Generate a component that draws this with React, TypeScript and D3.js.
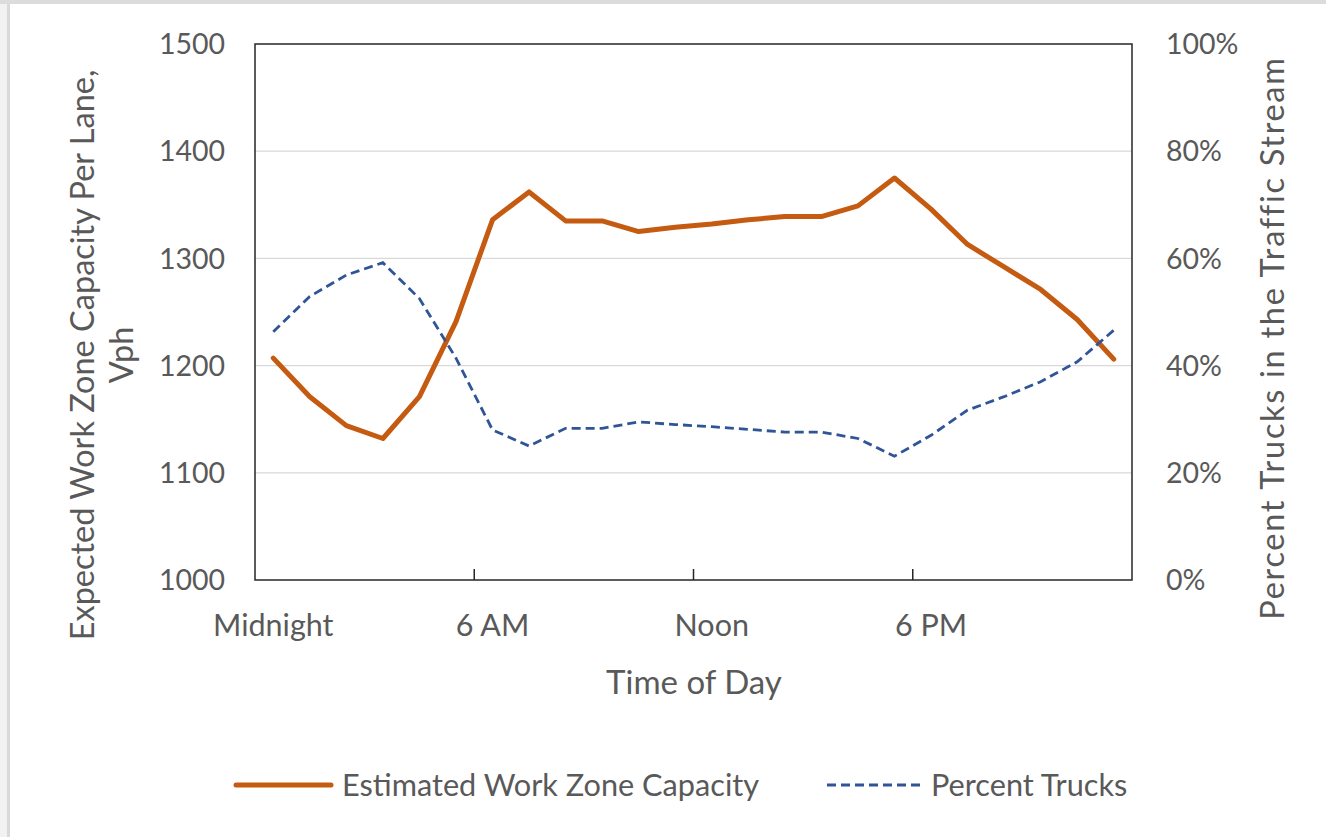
import React, { useEffect, useRef } from 'react';
import * as d3 from 'd3';

// hours 0..23 (category axis)
const hours = d3.range(24);
const tickLabels: Record<number, string> = { 0: 'Midnight', 6: '6 AM', 12: 'Noon', 18: '6 PM' };

// Estimated work zone capacity per lane (vph)
const capacity = [
  1207, 1171, 1144, 1132, 1171, 1241, 1336, 1362, 1335, 1335, 1325, 1329,
  1332, 1336, 1339, 1339, 1349, 1375, 1346, 1313, 1292, 1271, 1243, 1206,
];

// Percent trucks in the traffic stream
const trucks = [
  0.463, 0.529, 0.569, 0.592, 0.525, 0.414, 0.28, 0.25, 0.283, 0.283, 0.295, 0.29,
  0.286, 0.281, 0.276, 0.276, 0.264, 0.231, 0.27, 0.317, 0.342, 0.37, 0.407, 0.466,
];

const leftTicks = [1000, 1100, 1200, 1300, 1400, 1500];
const rightTicks = [0, 0.2, 0.4, 0.6, 0.8, 1];

const W = 1326;
const H = 837;
const FONT = 'Lato, "Open Sans", sans-serif';
const TXT = '#595959';

export default function App() {
  const svgRef = useRef<SVGSVGElement | null>(null);

  useEffect(() => {
    const svg = d3.select(svgRef.current);
    svg.selectAll('*').remove();

    const m = { left: 255, right: 1132, top: 44, bottom: 580 };

    // frame
    svg.append('rect').attr('width', W).attr('height', H).attr('fill', '#fff');
    svg.append('rect').attr('x', 0).attr('y', 0).attr('width', 7).attr('height', H).attr('fill', '#f2f2f2');
    svg.append('rect').attr('x', 7).attr('y', 0).attr('width', 3).attr('height', H).attr('fill', '#d9d9d9');
    svg.append('rect').attr('x', 0).attr('y', 0).attr('width', W).attr('height', 4).attr('fill', '#dcdcdc');

    const x = d3.scaleBand<number>().domain(hours).range([m.left, m.right]);
    const cx = (h: number) => (x(h) as number) + x.bandwidth() / 2;
    const yL = d3.scaleLinear().domain([1000, 1500]).range([m.bottom, m.top]);
    const yR = d3.scaleLinear().domain([0, 1]).range([m.bottom, m.top]);

    // gridlines
    svg.append('g')
      .selectAll('line')
      .data(leftTicks.slice(1, -1))
      .join('line')
      .attr('x1', m.left).attr('x2', m.right)
      .attr('y1', (d) => yL(d)).attr('y2', (d) => yL(d))
      .attr('stroke', '#d9d9d9').attr('stroke-width', 1.3);

    // plot border
    svg.append('rect')
      .attr('x', m.left).attr('y', m.top)
      .attr('width', m.right - m.left).attr('height', m.bottom - m.top)
      .attr('fill', 'none').attr('stroke', '#262626').attr('stroke-width', 1.5);

    // x tick marks at category boundaries
    svg.append('g')
      .selectAll('line')
      .data([6, 12, 18])
      .join('line')
      .attr('x1', (d) => x(d) as number).attr('x2', (d) => x(d) as number)
      .attr('y1', m.bottom).attr('y2', m.bottom - 11)
      .attr('stroke', '#262626').attr('stroke-width', 1.5);

    // tick labels
    svg.append('g')
      .selectAll('text')
      .data(leftTicks)
      .join('text')
      .attr('x', 225).attr('y', (d) => yL(d))
      .attr('dy', '0.36em').attr('text-anchor', 'end')
      .attr('font-family', FONT).attr('font-size', 28.5).attr('fill', TXT)
      .text((d) => d);

    svg.append('g')
      .selectAll('text')
      .data(rightTicks)
      .join('text')
      .attr('x', 1166).attr('y', (d) => yR(d))
      .attr('dy', '0.36em').attr('text-anchor', 'start')
      .attr('font-family', FONT).attr('font-size', 28.5).attr('fill', TXT)
      .text((d) => d3.format('.0%')(d));

    svg.append('g')
      .selectAll('text')
      .data(Object.keys(tickLabels).map(Number))
      .join('text')
      .attr('x', (d) => cx(d)).attr('y', 636)
      .attr('text-anchor', 'middle')
      .attr('font-family', FONT).attr('font-size', 30.5).attr('fill', TXT)
      .text((d) => tickLabels[d]);

    // axis titles
    svg.append('text')
      .attr('x', 694).attr('y', 694).attr('text-anchor', 'middle')
      .attr('font-family', FONT).attr('font-size', 33).attr('fill', TXT)
      .text('Time of Day');

    const lt = svg.append('text')
      .attr('transform', 'translate(94,355) rotate(-90)')
      .attr('text-anchor', 'middle')
      .attr('font-family', FONT).attr('font-size', 32.5).attr('fill', TXT);
    lt.append('tspan').attr('x', 0).attr('y', 0).text('Expected Work Zone Capacity Per Lane,');
    lt.append('tspan').attr('x', 0).attr('y', 39).text('Vph');

    svg.append('text')
      .attr('transform', 'translate(1284,338) rotate(-90)')
      .attr('text-anchor', 'middle')
      .attr('font-family', FONT).attr('font-size', 32.5).attr('fill', TXT)
      .attr('letter-spacing', 1.7)
      .style('font-variant-ligatures', 'none')
      .text('Percent Trucks in the Traffic Stream');

    // series
    const capLine = d3.line<number>().x((_, i) => cx(hours[i])).y((d) => yL(d));
    const trkLine = d3.line<number>().x((_, i) => cx(hours[i])).y((d) => yR(d));

    svg.append('path')
      .datum(capacity)
      .attr('fill', 'none').attr('stroke', '#c55a11').attr('stroke-width', 5)
      .attr('stroke-linejoin', 'round').attr('stroke-linecap', 'round')
      .attr('d', capLine);

    svg.append('path')
      .datum(trucks)
      .attr('fill', 'none').attr('stroke', '#2f5597').attr('stroke-width', 2.8)
      .attr('stroke-dasharray', '9,5')
      .attr('d', trkLine);

    // legend
    const lg = svg.append('g');
    lg.append('line').attr('x1', 236).attr('x2', 331).attr('y1', 785).attr('y2', 785)
      .attr('stroke', '#c55a11').attr('stroke-width', 5).attr('stroke-linecap', 'round');
    lg.append('text').attr('x', 342).attr('y', 785).attr('dy', '0.36em')
      .attr('font-family', FONT).attr('font-size', 30.7).attr('fill', TXT)
      .text('Estimated Work Zone Capacity');
    lg.append('line').attr('x1', 827).attr('x2', 923).attr('y1', 785).attr('y2', 785)
      .attr('stroke', '#2f5597').attr('stroke-width', 2.8).attr('stroke-dasharray', '9,5');
    lg.append('text').attr('x', 931).attr('y', 785).attr('dy', '0.36em')
      .attr('font-family', FONT).attr('font-size', 30.7).attr('fill', TXT)
      .text('Percent Trucks');
  }, []);

  return (
    <div style={{ position: 'fixed', left: 0, top: 0 }}>
      <svg ref={svgRef} width={W} height={H} style={{ display: 'block' }}></svg>
    </div>
  );
}
